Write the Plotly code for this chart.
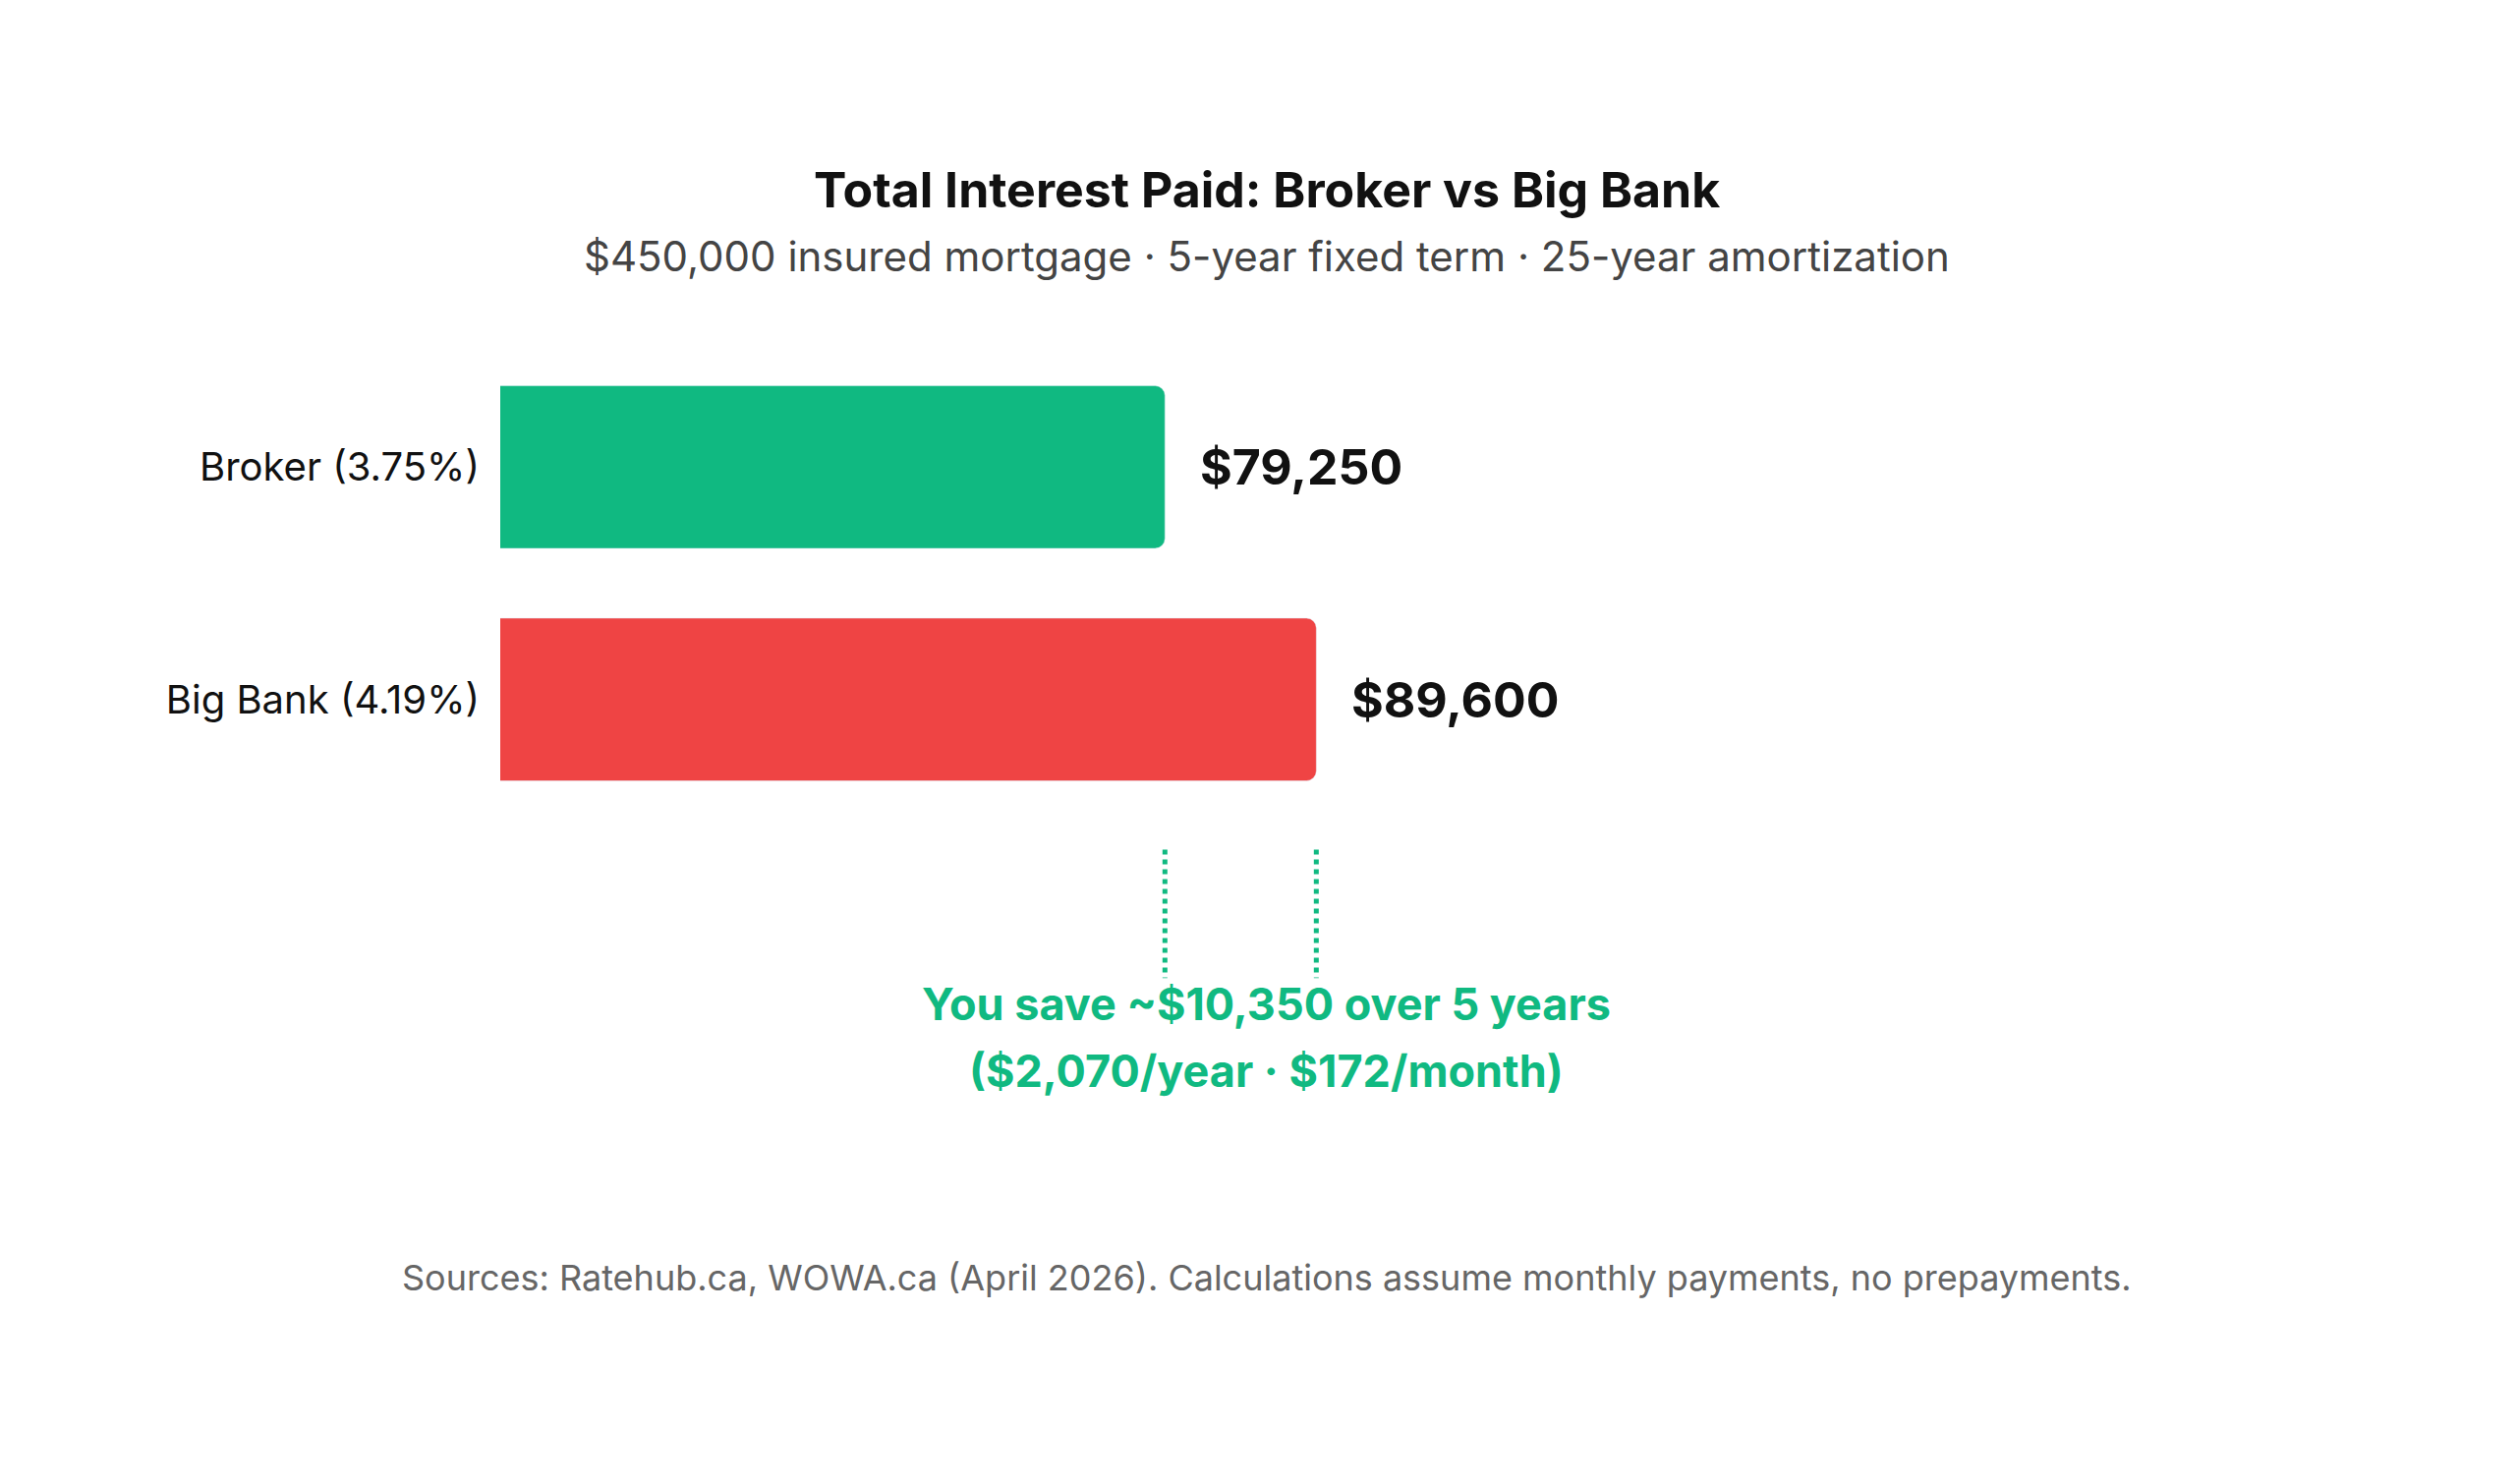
import plotly.graph_objects as go

categories = ["Broker (3.75%)", "Big Bank (4.19%)"]
values = [79250, 89600]
value_labels = ["$79,250", "$89,600"]
colors = ["#10B981", "#EF4444"]

W, H = 2560, 1510
top, bot = 348.5, 822.5
def py(p):
    return (bot - p) / (bot - top)

fig = go.Figure(go.Bar(
    y=categories, x=values, orientation="h", marker=dict(color=colors, cornerradius=10),
    width=0.7, hoverinfo="skip"))

FONT = "Inter, Roboto, sans-serif"
ann = []
for c, v, t in zip(categories, values, value_labels):
    ann.append(dict(x=v, y=c, xref="x", yref="y", text=f"<b>{t}</b>", showarrow=False,
                    xanchor="left", xshift=34, font=dict(size=50, color="#111111", family=FONT)))
ann += [
    dict(x=0.5, y=py(152), xref="paper", yref="paper", text="<b>Total Interest Paid: Broker vs Big Bank</b>",
         showarrow=False, font=dict(size=50, color="#111111", family=FONT)),
    dict(x=0.5, y=py(224), xref="paper", yref="paper",
         text="$450,000 insured mortgage · 5-year fixed term · 25-year amortization",
         showarrow=False, font=dict(size=42, color="#444444", family=FONT)),
    dict(x=0.5, y=py(1044), xref="paper", yref="paper", text="<b>You save ~$10,350 over 5 years</b>",
         showarrow=False, font=dict(size=45, color="#10B981", family=FONT)),
    dict(x=0.5, y=py(1112), xref="paper", yref="paper", text="<b>($2,070/year · $172/month)</b>",
         showarrow=False, font=dict(size=45, color="#10B981", family=FONT)),
    dict(x=0.5, y=py(1318), xref="paper", yref="paper",
         text="Sources: Ratehub.ca, WOWA.ca (April 2026). Calculations assume monthly payments, no prepayments.",
         showarrow=False, font=dict(size=36, color="#666666", family=FONT)),
]
shapes = [dict(type="line", xref="x", yref="paper", x0=v, x1=v, y0=py(857), y1=py(988),
               line=dict(color="#10B981", width=5, dash="dot")) for v in values]

fig.update_layout(
    width=W, height=H, paper_bgcolor="white", plot_bgcolor="white",
    margin=dict(l=501, r=500, t=top, b=H - bot, autoexpand=False),
    xaxis=dict(range=[33800, 138570], visible=False),
    yaxis=dict(autorange="reversed", showgrid=False, zeroline=False, ticks="", ticklabelstandoff=20,
               tickfont=dict(size=40, color="#111111", family=FONT)),
    showlegend=False, annotations=ann, shapes=shapes, font=dict(family=FONT))
fig.update_yaxes(range=[1.5, -0.5], autorange=False)
fig.write_html("out.html")
